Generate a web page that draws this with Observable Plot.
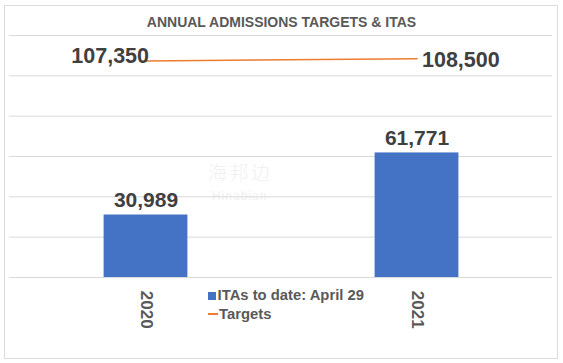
<!DOCTYPE html>
<html>
<head>
<meta charset="utf-8">
<script src="https://cdn.jsdelivr.net/npm/d3@7"></script>
<script src="https://cdn.jsdelivr.net/npm/@observablehq/plot@0.6"></script>
<style>
  body { margin: 0; background: #fff; }
  #wrap { position: relative; width: 563px; height: 363px; font-family: "Liberation Sans", Arial, sans-serif; overflow: hidden; }
  #frame { position: absolute; left: 4px; top: 5px; width: 554px; height: 354px; box-sizing: border-box; border: 1px solid #dcdcdc; }
  #title { position: absolute; left: 0; top: 14.6px; width: 563px; text-align: center; font-size: 14px; line-height: 14px; font-weight: bold; color: #595959; white-space: nowrap; }
  #legend { position: absolute; left: 208px; top: 288px; color: #595959; font-weight: bold; font-size: 14.8px; }
  .row { display: flex; align-items: center; height: 15px; line-height: 15px; white-space: nowrap; }
  .row + .row { margin-top: 3.6px; }
  .sw { flex: none; margin-right: 1.6px; }
  .wm1 { position: absolute; left: 208px; top: 162px; font-family: "Noto Sans CJK SC", sans-serif; font-size: 19px; line-height: 19px; color: #f0f0f0; font-weight: 300; letter-spacing: 2.5px; }
  .wm2 { position: absolute; left: 212px; top: 190px; font-family: "Liberation Sans", sans-serif; font-size: 12px; line-height: 12px; color: #f0f0f0; letter-spacing: 1px; }
  #chart { position: absolute; left: 0; top: 0; }
</style>
</head>
<body>
<div id="wrap">
  <div id="frame"></div>
  <div class="wm1">海邦边</div>
  <div class="wm2">Hinabian</div>
  <div id="chart"></div>
  <div id="title"></div>
  <div id="legend"></div>
</div>
<script>
const titleText = "ANNUAL ADMISSIONS TARGETS & ITAS";
const years = ["2020", "2021"];
const itas = [30989, 61771];
const targets = [107350, 108500];
const seriesNames = ["ITAs to date: April 29", "Targets"];
const seriesColors = ["#4472C4", "#ED7D31"];
const yTicks = [0, 20000, 40000, 60000, 80000, 100000, 120000];

const rows = years.map((year, i) => ({year, itas: itas[i], target: targets[i]}));
const fmt = d3.format(",");
const font = "Liberation Sans, Arial, sans-serif";

const chart = Plot.plot({
  width: 563,
  height: 363,
  marginLeft: 9,
  marginRight: 11,
  marginTop: 35,
  marginBottom: 86,
  style: {background: "transparent", fontFamily: font},
  x: {domain: years, padding: 0, axis: null},
  y: {domain: [0, 120000], axis: null},
  marks: [
    Plot.gridY(yTicks, {stroke: "#d9d9d9", strokeOpacity: 1, strokeWidth: 1}),
    Plot.barY(rows, {x: "year", y: "itas", fill: seriesColors[0], insetLeft: 93.6, insetRight: 93.6}),
    Plot.text(rows, {x: "year", y: "itas", text: d => fmt(d.itas), lineAnchor: "bottom", dy: -8,
      fontSize: 21, fontWeight: "bold", fill: "#404040"}),
    Plot.line(rows, {x: "year", y: "target", stroke: seriesColors[1], strokeWidth: 1.5}),
    Plot.text(rows, {filter: d => d.year === years[0], x: "year", y: "target", text: d => fmt(d.target),
      textAnchor: "end", lineAnchor: "middle", dx: 3, dy: -4.7, fontSize: 21.5, fontWeight: "bold", fill: "#404040"}),
    Plot.text(rows, {filter: d => d.year === years[years.length - 1], x: "year", y: "target", text: d => fmt(d.target),
      textAnchor: "start", lineAnchor: "middle", dx: 5, dy: 1.8, fontSize: 21.5, fontWeight: "bold", fill: "#404040"}),
    Plot.text(years, {x: d => d, frameAnchor: "bottom", text: d => d, rotate: 90, textAnchor: "start",
      lineAnchor: "middle", dy: 13.3, fontSize: 17, fontWeight: "bold", fill: "#595959"})
  ]
});
document.getElementById("chart").appendChild(chart);
document.getElementById("title").textContent = titleText;

const legend = document.getElementById("legend");
seriesNames.forEach((name, i) => {
  const row = document.createElement("div");
  row.className = "row";
  const sw = document.createElement("span");
  sw.className = "sw";
  if (i === 0) {
    sw.style.cssText = `width:8px;height:8px;background:${seriesColors[i]};`;
  } else {
    sw.style.cssText = `width:9.5px;height:1.5px;background:${seriesColors[i]};`;
  }
  const label = document.createElement("span");
  label.textContent = name;
  row.appendChild(sw);
  row.appendChild(label);
  legend.appendChild(row);
});
</script>
</body>
</html>
